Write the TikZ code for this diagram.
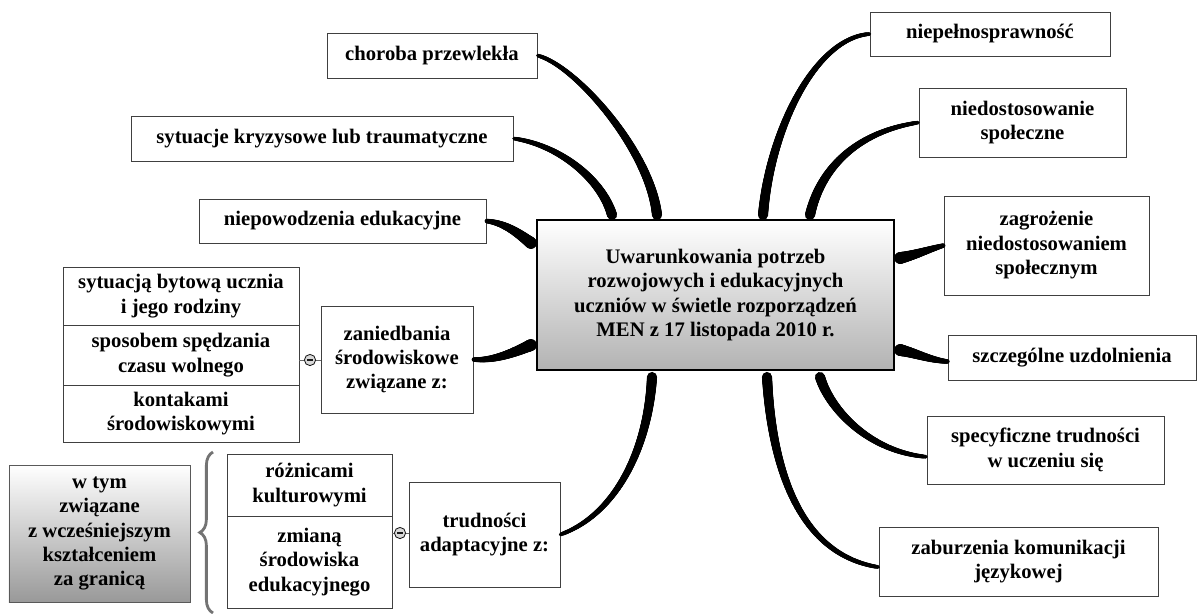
\documentclass[tikz,border=0pt]{standalone}
\usepackage{fontspec}
\setmainfont{Liberation Serif}
\usetikzlibrary{decorations.markings,decorations.pathreplacing}
\begin{document}
\begin{tikzpicture}[x=0.025cm,y=-0.025cm,
  every node/.style={font=\fontsize{14.7}{17.4}\selectfont\bfseries, align=center, inner sep=2pt},
  leaf/.style={draw=black!75, line width=0.6pt, fill=white},
  hub/.style={draw=black, line width=2pt, top color=white, bottom color=black!30, minimum width=8.925cm, minimum height=3.75cm},
  note/.style={draw=black!65, line width=0.6pt, top color=white, bottom color=black!40},
  knob/.style={circle, draw=black!90, fill=black!15, line width=0.6pt, inner sep=0pt, minimum size=0.28cm,
    path picture={\draw[line width=0.8pt] ([xshift=-0.07cm]path picture bounding box.center) -- ([xshift=0.07cm]path picture bounding box.center);}},
  link/.style={draw=black!60, line width=0.6pt},
  brush/.style={decorate, decoration={markings, mark=between positions 0 and 1 step 0.4pt with {\pgfmathsetmacro\brr{#1*(1-0.62*\pgfkeysvalueof{/pgf/decoration/mark info/distance from start}/\pgfdecoratedpathlength)}\fill (0,0) circle (\brr pt);}}},
  brush/.default=3.6]
\useasboundingbox (0,0) rectangle (1197,613);

\node[hub] (main) at (715.5,295) {Uwarunkowania potrzeb\\rozwojowych i edukacyjnych\\uczniów w świetle rozporządzeń\\MEN z 17 listopada 2010 r.};

\node[leaf, minimum width=5.25cm, minimum height=1.125cm] (chor) at (432,55.5) {choroba przewlekła};
\node[leaf, minimum width=9.55cm, minimum height=1.125cm] (syt) at (322,138.5) {sytuacje kryzysowe lub traumatyczne};
\node[leaf, minimum width=7.175cm, minimum height=1.1cm] (niep) at (342.5,221) {niepowodzenia edukacyjne};
\node[leaf, minimum width=6cm, minimum height=1.1cm] (niepel) at (990,34) {niepełnosprawność};
\node[leaf, minimum width=5.175cm, minimum height=1.725cm] (niedost) at (1022.5,122.5) {niedostosowanie\\społeczne};
\node[leaf, minimum width=5.125cm, minimum height=2.475cm] (zagr) at (1046.5,245.5) {zagrożenie\\niedostosowaniem\\społecznym};
\node[leaf, minimum width=6.2cm, minimum height=1.125cm] (szcz) at (1072,357.5) {szczególne uzdolnienia};
\node[leaf, minimum width=5.925cm, minimum height=1.7cm] (spec) at (1045.5,450) {specyficzne trudności\\w uczeniu się};
\node[leaf, minimum width=6.975cm, minimum height=1.725cm] (zab) at (1018.5,561.5) {zaburzenia komunikacji\\językowej};

\node[leaf, minimum width=5.9cm, minimum height=1.45cm] (s1) at (181,296) {sytuacją bytową ucznia\\i jego rodziny};
\node[leaf, minimum width=5.9cm, minimum height=1.5cm] (s2) at (181,355) {sposobem spędzania\\czasu wolnego};
\node[leaf, minimum width=5.9cm, minimum height=1.425cm] (s3) at (181,413.5) {kontakami\\środowiskowymi};
\node[leaf, minimum width=3.8cm, minimum height=2.675cm] (zan) at (397,359.5) {zaniedbania\\środowiskowe\\związane z:};

\node[leaf, minimum width=4.125cm, minimum height=1.55cm] (r1) at (309.5,485) {różnicami\\kulturowymi};
\node[leaf, minimum width=4.125cm, minimum height=2.3cm] (r2) at (309.5,562) {zmianą\\środowiska\\edukacyjnego};
\node[leaf, minimum width=3.775cm, minimum height=2.625cm] (tru) at (484.5,534.5) {trudności\\adaptacyjne z:};
\node[note, minimum width=4.525cm, minimum height=3.425cm] (wtym) at (99.5,533.5) {w tym\\związane\\z wcześniejszym\\kształceniem\\za granicą};

\draw[decorate, decoration={brace, amplitude=0.33cm}, black!55, line width=2pt] (213,613) -- (213,452);

\draw[link] (s2.east |- 310,360) -- (zan.west |- 310,360);
\draw[link] (r2.east |- 400,533) -- (tru.west |- 400,533);
\node[knob] (k1) at (310,360) {};
\node[knob] (k2) at (400,533) {};

\coordinate (a1) at (657,215);
\coordinate (a2) at (612,215);
\coordinate (a3) at (531,243);
\coordinate (a4) at (763,215);
\coordinate (a5) at (810,215);
\coordinate (a6) at (900,258);
\coordinate (a7) at (900,350);
\coordinate (a8) at (820,377);
\coordinate (a9) at (767,377);
\coordinate (a10) at (531,345);
\coordinate (a11) at (652,377);
\path[brush] (a1) .. controls (650,150) and (575,65) .. (chor.east);
\path[brush] (a2) .. controls (602,180) and (560,145) .. (syt.east);
\path[brush=4.2] (a3) .. controls (518,233) and (505,223) .. (niep.east);
\path[brush] (a4) .. controls (770,130) and (815,38) .. (niepel.west);
\path[brush] (a5) .. controls (820,170) and (855,132) .. (niedost.west);
\path[brush=4.2] (a6) .. controls (915,255) and (930,249) .. (zagr.west);
\path[brush=4.2] (a7) .. controls (915,353) and (930,360) .. ([yshift=-0.1cm]szcz.west);
\path[brush] (a8) .. controls (830,410) and (870,452) .. ([yshift=-0.17cm]spec.west);
\path[brush] (a9) .. controls (772,470) and (800,555) .. ([yshift=-0.14cm]zab.west);
\path[brush=4.2] (a10) .. controls (515,352) and (495,361) .. (zan.east);
\path[brush] (a11) .. controls (648,450) and (615,515) .. (tru.east);
\end{tikzpicture}
\end{document}
